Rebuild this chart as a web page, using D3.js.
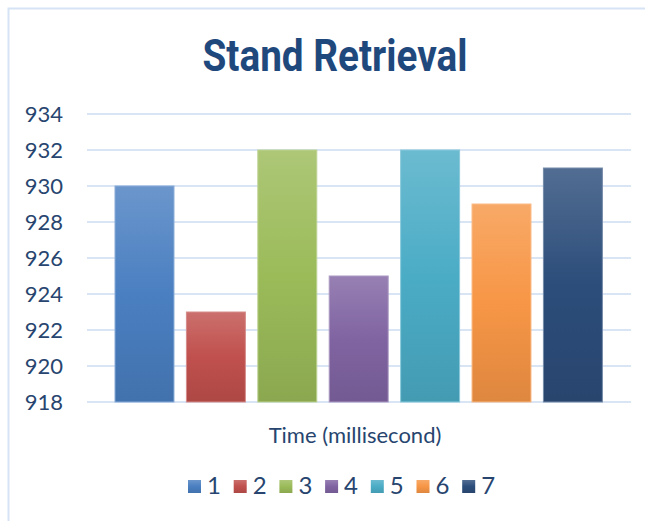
<!DOCTYPE html>
<html>
<head>
<meta charset="utf-8">
<script src="https://cdn.jsdelivr.net/npm/d3@7/dist/d3.min.js"></script>
<style>
html,body{margin:0;padding:0;background:#fff;}
svg{display:block;}
</style>
</head>
<body>
<svg id="chart" width="645" height="521"></svg>
<script>
const title = "Stand Retrieval";
const xAxisTitle = "Time (millisecond)";
const series = ["1","2","3","4","5","6","7"];
const values = [930, 923, 932, 925, 932, 929, 931];
const colors = ["#4a7fc1","#c0504d","#9bbb59","#8064a2","#4bacc6","#f79646","#2c4d7a"];
const yTicks = [918, 920, 922, 924, 926, 928, 930, 932, 934];

const svg = d3.select("#chart");
const font = "Lato, 'Open Sans', sans-serif";
const textColor = "#27456f";

// frame
svg.append("rect").attr("x", 8.5).attr("y", 8.5).attr("width", 700).attr("height", 600)
  .attr("fill", "#fff").attr("stroke", "#d6e3f5").attr("stroke-width", 2);

const plot = {left: 87, right: 631, top: 114, bottom: 402};
const y = d3.scaleLinear().domain([918, 934]).range([plot.bottom, plot.top]);
const x = d3.scaleBand().domain(series).range([115, 602.4]).paddingInner(0.174).paddingOuter(0);

// gradients
const defs = svg.append("defs");
colors.forEach((c, i) => {
  const g = defs.append("linearGradient").attr("id", "g" + i)
    .attr("x1", 0).attr("y1", 0).attr("x2", 0).attr("y2", 1);
  const base = d3.color(c);
  const top = d3.interpolateRgb(c, "#ffffff")(0.18);
  const bot = base.darker(0.3);
  g.append("stop").attr("offset", "0%").attr("stop-color", top);
  g.append("stop").attr("offset", "50%").attr("stop-color", c);
  g.append("stop").attr("offset", "100%").attr("stop-color", bot);
});

// gridlines
svg.append("g").selectAll("line").data(yTicks).join("line")
  .attr("x1", plot.left).attr("x2", plot.right)
  .attr("y1", d => y(d)).attr("y2", d => y(d))
  .attr("stroke", "#d9e4f4").attr("stroke-width", 2);

// y axis labels
const yAxis = d3.axisLeft(y).tickValues(yTicks).tickSize(0).tickPadding(0).tickFormat(d3.format("d"));
const ya = svg.append("g").attr("transform", "translate(63,0)").call(yAxis);
ya.select(".domain").remove();
ya.selectAll("text").attr("font-family", font).attr("font-size", 22).attr("fill", textColor).attr("dy", "0.36em");

// bars
svg.append("g").selectAll("rect").data(values).join("rect")
  .attr("x", (d, i) => x(series[i]))
  .attr("y", d => y(d))
  .attr("width", x.bandwidth())
  .attr("height", d => y(918) - y(d))
  .attr("fill", (d, i) => `url(#g${i})`)
  .attr("stroke", (d, i) => d3.interpolateRgb(colors[i], "#ffffff")(0.35))
  .attr("stroke-width", 1);

// title
svg.append("text").attr("x", 335).attr("y", 71).attr("text-anchor", "middle")
  .attr("font-family", "Roboto, 'DejaVu Sans Condensed', sans-serif")
  .attr("font-weight", "bold").attr("font-size", 45).attr("fill", "#1f497d")
  .attr("textLength", 265).attr("lengthAdjust", "spacingAndGlyphs")
  .text(title);

// x axis title
svg.append("text").attr("x", 355).attr("y", 443).attr("text-anchor", "middle")
  .attr("font-family", font).attr("font-size", 22).attr("fill", textColor)
  .text(xAxisTitle);

// legend
const legend = svg.append("g");
const lg = legend.selectAll("g").data(series).join("g")
  .attr("transform", (d, i) => `translate(${188 + i * 45.7},480)`);
lg.append("rect").attr("width", 13).attr("height", 13)
  .attr("fill", (d, i) => `url(#g${i})`);
lg.append("text").attr("x", 19).attr("y", 14)
  .attr("font-family", font).attr("font-size", 24).attr("fill", textColor)
  .text(d => d);
</script>
</body>
</html>
